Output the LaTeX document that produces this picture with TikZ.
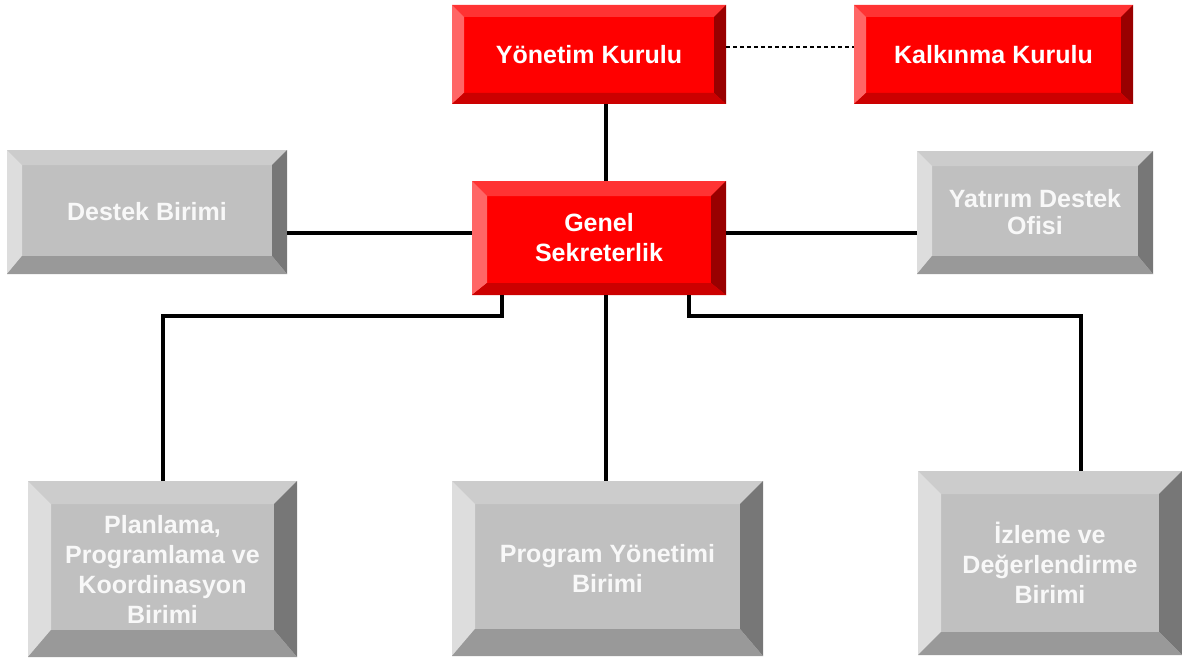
\documentclass[tikz,border=0pt]{standalone}
\usepackage{fontspec}
\setmainfont{Liberation Sans}
\usetikzlibrary{calc}

\definecolor{redFace}{HTML}{FF0000}
\definecolor{redTop}{HTML}{FF3333}
\definecolor{redLeft}{HTML}{FF6666}
\definecolor{redRight}{HTML}{990000}
\definecolor{redBottom}{HTML}{CC0000}
\definecolor{grayFace}{HTML}{C0C0C0}
\definecolor{grayTop}{HTML}{CCCCCC}
\definecolor{grayLeft}{HTML}{DDDDDD}
\definecolor{grayRight}{HTML}{777777}
\definecolor{grayBottom}{HTML}{999999}
\definecolor{grayText}{HTML}{F8F8F8}

% bevel rims of a box: top, left, right, bottom colours
\newcommand{\bevels}[4]{%
  \fill[#1] (path picture bounding box.north west) -- (path picture bounding box.north east)
    -- ($(path picture bounding box.north east)+(-\bevw,-\bevw)$)
    -- ($(path picture bounding box.north west)+(\bevw,-\bevw)$) -- cycle;
  \fill[#2] (path picture bounding box.north west) -- (path picture bounding box.south west)
    -- ($(path picture bounding box.south west)+(\bevw,\bevb)$)
    -- ($(path picture bounding box.north west)+(\bevw,-\bevw)$) -- cycle;
  \fill[#3] (path picture bounding box.north east) -- (path picture bounding box.south east)
    -- ($(path picture bounding box.south east)+(-\bevw,\bevb)$)
    -- ($(path picture bounding box.north east)+(-\bevw,-\bevw)$) -- cycle;
  \fill[#4] (path picture bounding box.south west) -- (path picture bounding box.south east)
    -- ($(path picture bounding box.south east)+(-\bevw,\bevb)$)
    -- ($(path picture bounding box.south west)+(\bevw,\bevb)$) -- cycle;
}

\tikzset{
  bev/.store in=\bevw, bev=12pt,
  bevb/.store in=\bevb, bevb=12pt,
  box/.style={rectangle, inner sep=0pt, align=center,
    font=\fontsize{25}{30}\selectfont\bfseries},
  redbox/.style={box, fill=redFace, text=white,
    path picture={\bevels{redTop}{redLeft}{redRight}{redBottom}}},
  graybox/.style={box, fill=grayFace, text=grayText,
    path picture={\bevels{grayTop}{grayLeft}{grayRight}{grayBottom}}},
  link/.style={line width=4pt},
  dashlink/.style={line width=1.4pt, dash pattern=on 4pt off 3pt}
}

\begin{document}
\begin{tikzpicture}[x=1pt, y=-1pt]
    \useasboundingbox (0,0) rectangle (1182,658);

    % Boards
    \node[redbox, bev=12pt, bevb=11pt, minimum width=274pt, minimum height=99pt]
        (yk) at (589,54.5) {Yönetim Kurulu};
    \node[redbox, bev=12pt, bevb=11pt, minimum width=279pt, minimum height=99pt]
        (kk) at (993.5,54.5) {Kalkınma Kurulu};

    % Middle row
    \node[redbox, bev=15pt, bevb=12pt, minimum width=254pt, minimum height=114pt]
        (gs) at (599,238) {Genel\\Sekreterlik};
    \node[graybox, bev=15pt, bevb=18pt, minimum width=280pt, minimum height=124pt]
        (ds) at (147,212) {Destek Birimi};
    \node[graybox, bev=15pt, bevb=18pt, minimum width=236pt, minimum height=123pt]
        (yd) at (1035,212.5) {Yatırım Destek\\[-3pt]Ofisi};

    % Units
    \node[graybox, bev=23pt, bevb=27pt, minimum width=269pt, minimum height=176pt]
        (plan) at (162.5,569) {Planlama,\\Programlama ve\\Koordinasyon\\Birimi};
    \node[graybox, bev=23pt, bevb=27pt, minimum width=311pt, minimum height=175pt]
        (pyb) at (607.5,568.5) {Program Yönetimi\\Birimi};
    \node[graybox, bev=23pt, bevb=23pt, minimum width=264pt, minimum height=184pt]
        (izl) at (1050,563) {İzleme ve\\Değerlendirme\\Birimi};

    % Connectors
    \coordinate (spine) at (606,0);
    \coordinate (hub) at (0,233);
    \coordinate (dash) at (0,47);
    \coordinate (bus) at (0,316);
    \coordinate (gsL) at (502,295);
    \coordinate (gsR) at (689,295);
    \coordinate (izlIn) at (1081,471);

    \draw[link] (yk.south -| spine) -- (gs.north -| spine);
    \draw[link] (gs.south -| spine) -- (pyb.north -| spine);
    \draw[link] (ds.east |- hub) -- (gs.west |- hub);
    \draw[link] (gs.east |- hub) -- (yd.west |- hub);
    \draw[link] (gsL) -- (gsL |- bus) -| (plan.north);
    \draw[link] (gsR) -- (gsR |- bus) -| (izlIn);
    \draw[dashlink] (yk.east |- dash) -- (kk.west |- dash);
\end{tikzpicture}
\end{document}
